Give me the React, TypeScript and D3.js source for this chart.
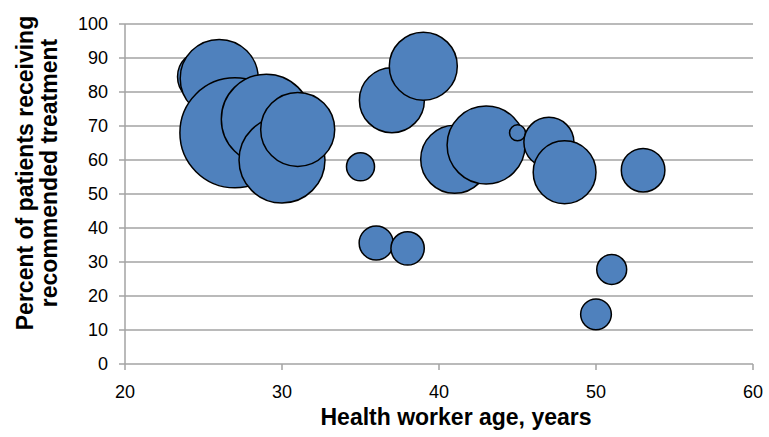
import React from "react";
import * as d3 from "d3";

const ages = [25, 26, 27, 29, 30, 31, 35, 36, 37, 38, 39, 41, 43, 45, 47, 48, 50, 51, 53];
const percents = [84.5, 84, 68, 72, 60, 69, 58, 35.6, 77.6, 34, 87.6, 60.2, 64.4, 68, 65.2, 56.4, 14.6, 27.8, 57];
const sizes = [22.3, 50.3, 100, 66.9, 61.1, 45.3, 6.5, 9.6, 34.9, 9.2, 38.2, 38.2, 50.3, 2.1, 20.7, 32.6, 7.8, 7.4, 15.7];
const xTicks = [20, 30, 40, 50, 60];
const yTicks = [0, 10, 20, 30, 40, 50, 60, 70, 80, 90, 100];

const W = 769;
const H = 437;
const left = 125, right = 753, top = 24, bottom = 364;

export default function App() {
  const x = d3.scaleLinear().domain([20, 60]).range([left, right]);
  const y = d3.scaleLinear().domain([0, 100]).range([bottom, top]);
  const r = d3.scaleSqrt().domain([0, d3.max(sizes) as number]).range([0, 55]);
  const grid = "#a3a3a3";
  const font = "'Liberation Sans', Arial, sans-serif";
  const pts = ages.map((a, i) => ({ a, p: percents[i], s: sizes[i] }));
  return (
    <svg width={W} height={H} style={{ position: "absolute", left: 0, top: 0, background: "#fff" }} fontFamily={font}>
      {yTicks.map((t) => (
        <g key={"y" + t}>
          <line x1={left - 6} x2={right} y1={y(t)} y2={y(t)} stroke={grid} strokeWidth={1.5} />
          <text x={left - 17} y={y(t)} dy="0.36em" textAnchor="end" fontSize={18} fill="#000">{t}</text>
        </g>
      ))}
      <line x1={left} x2={left} y1={top} y2={bottom} stroke={grid} strokeWidth={1.5} />
      {xTicks.map((t) => (
        <g key={"x" + t}>
          <line x1={x(t)} x2={x(t)} y1={bottom} y2={bottom + 6} stroke={grid} strokeWidth={1.5} />
          <text x={x(t)} y={bottom + 34} textAnchor="middle" fontSize={18} fill="#000">{t}</text>
        </g>
      ))}
      {pts.map((d, i) => (
        <circle key={i} cx={x(d.a)} cy={y(d.p)} r={r(d.s)} fill="#4f81bd" stroke="#000" strokeWidth={1.5} />
      ))}
      <text x={456} y={425} textAnchor="middle" fontSize={23} fontWeight="bold" fill="#000">Health worker age, years</text>
      <g transform="translate(33,173) rotate(-90)">
        <text x={0} y={0} textAnchor="middle" fontSize={23} fontWeight="bold" fill="#000">Percent of patients receiving</text>
        <text x={0} y={24} textAnchor="middle" fontSize={23} fontWeight="bold" fill="#000">recommended treatment</text>
      </g>
    </svg>
  );
}
